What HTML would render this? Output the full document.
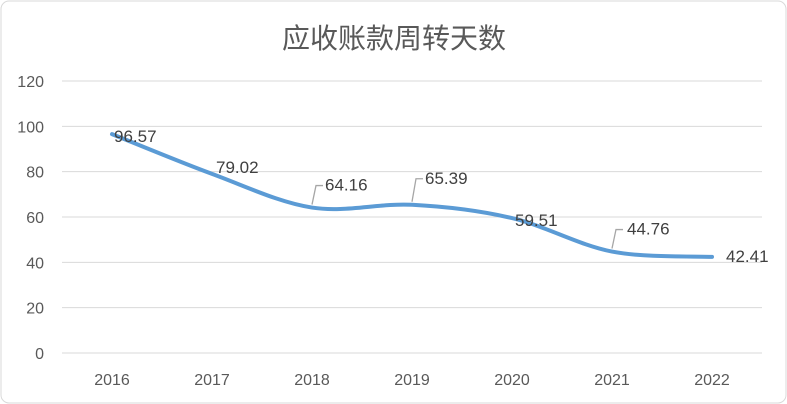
<!DOCTYPE html>
<html><head><meta charset="utf-8"><style>
body{margin:0;background:#fff;}
#c{position:absolute;left:0;top:0;width:787px;height:404px;}
text{font-family:"Liberation Sans","Noto Sans CJK SC",sans-serif;}
</style></head><body>
<svg id="c" width="787" height="404">
<rect x="1" y="1" width="785" height="402" rx="8" fill="#fff" stroke="#d9d9d9"/>
<text x="394" y="48" text-anchor="middle" font-size="28" fill="#595959">应收账款周转天数</text>
<g id="grid"></g><g id="ylab"></g><g id="xlab"></g><g id="series"></g><g id="labels"></g>
</svg>
<script>
const categories=["2016","2017","2018","2019","2020","2021","2022"];
const values=[96.57,79.02,64.16,65.39,59.51,44.76,42.41];
const valueLabels=["96.57","79.02","64.16","65.39","59.51","44.76","42.41"];
const yTicks=[0,20,40,60,80,100,120];
const NS="http://www.w3.org/2000/svg";
const L=62,R=762,T=81,B=353;
const xs=i=>L+(R-L)/categories.length*(i+0.5);
const ys=v=>B-(B-T)*v/120;
function mk(t,a,p){const e=document.createElementNS(NS,t);for(const k in a)e.setAttribute(k,a[k]);p.appendChild(e);return e;}
const grid=document.getElementById('grid'),yl=document.getElementById('ylab'),xl=document.getElementById('xlab');
yTicks.forEach(v=>{
 const g=mk('line',{x1:L,x2:R,y1:ys(v),y2:ys(v),stroke:'#d9d9d9','stroke-width':1},grid);
 
 
 const t=mk('text',{x:44,y:ys(v)+6,'text-anchor':'end','font-size':16,fill:'#595959'},yl);
 t.textContent=v;
 
 
});
categories.forEach((c,i)=>{
 const t=mk('text',{x:xs(i),y:385,'text-anchor':'middle','font-size':16,fill:'#595959'},xl);
 t.textContent=c;
 
 
});
const pts=values.map((v,i)=>[xs(i),ys(v)]);
let d='M'+pts[0][0]+','+pts[0][1];
for(let i=0;i<pts.length-1;i++){
 const p0=pts[Math.max(0,i-1)],p1=pts[i],p2=pts[i+1],p3=pts[Math.min(pts.length-1,i+2)];
 const k=1/6;
 d+=` C${p1[0]+(p2[0]-p0[0])*k},${p1[1]+(p2[1]-p0[1])*k} ${p2[0]-(p3[0]-p1[0])*k},${p2[1]-(p3[1]-p1[1])*k} ${p2[0]},${p2[1]}`;
}
const line=mk('path',{d:d,fill:'none',stroke:'#5b9bd5','stroke-width':4,'stroke-linecap':'round'},document.getElementById('series'));


const offs=[[2,8,0],[4,-1,0],[13,-17,1],[13,-21,1],[3,8,0],[15,-17,1],[14,5,0]];
const lg=document.getElementById('labels');
values.forEach((v,i)=>{
 const [px,py]=pts[i],[dx,dy,ld]=offs[i];
 if(ld){
  const pl=mk('polyline',{points:`${px},${py-3} ${px+4},${py+dy-5} ${px+11},${py+dy-5}`,fill:'none',stroke:'#a6a6a6','stroke-width':1.3},lg);
  
  
 }
 const t=mk('text',{x:px+dx,y:py+dy,'font-size':17,fill:'#404040'},lg);
 t.textContent=valueLabels[i];
 
 
});
</script>
</body></html>
